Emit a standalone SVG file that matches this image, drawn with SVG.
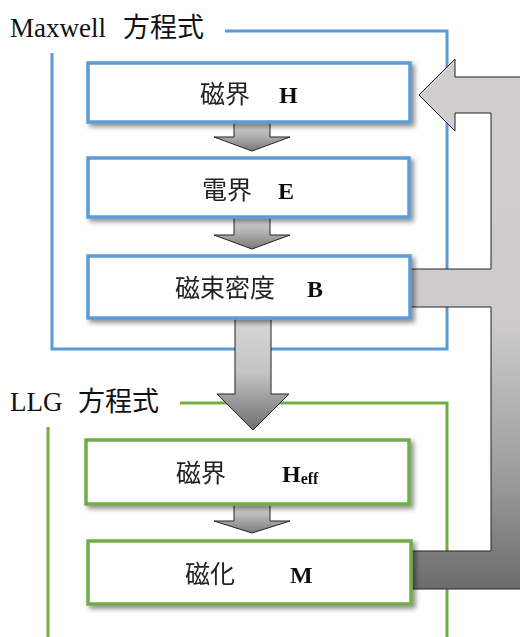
<svg xmlns="http://www.w3.org/2000/svg" width="520" height="637" viewBox="0 0 520 637">
<defs>
<style>
.title{font-family:"Liberation Serif","Noto Sans CJK JP",serif;font-size:27px;fill:#111}
.lbl{font-family:"Liberation Serif","Noto Sans CJK JP",serif;font-size:25px;fill:#222}
.b{font-family:"Liberation Serif",serif;font-weight:bold;font-size:24px;fill:#111}
.sub{font-family:"Liberation Serif",serif;font-weight:bold;font-size:16px;fill:#111}
.blue{fill:#fff;stroke:#5B9BD5;stroke-width:3.5}
.green{fill:#fff;stroke:#70AD47;stroke-width:3.5}
.fb{fill:none;stroke:#5B9BD5;stroke-width:3}
.fg{fill:none;stroke:#70AD47;stroke-width:3}
.arr{stroke:#222;stroke-width:1;stroke-linejoin:miter}
</style>
<linearGradient id="gs" x1="0" y1="0" x2="0" y2="1">
<stop offset="0" stop-color="#E8E8E8"/>
<stop offset="1" stop-color="#7A7A7A"/>
</linearGradient>
<linearGradient id="gbig" x1="0" y1="0" x2="0" y2="1">
<stop offset="0" stop-color="#D8D8D8"/>
<stop offset="0.5" stop-color="#C4C4C4"/>
<stop offset="1" stop-color="#6E6E6E"/>
</linearGradient>
<linearGradient id="gfb" gradientUnits="userSpaceOnUse" x1="0" y1="59" x2="0" y2="589">
<stop offset="0" stop-color="#D0CECE"/>
<stop offset="0.5" stop-color="#CDCBCB"/>
<stop offset="0.8" stop-color="#9A9A9A"/>
<stop offset="1" stop-color="#6C6C6C"/>
</linearGradient>
<filter id="sh" x="-5%" y="-20%" width="115%" height="150%">
<feDropShadow dx="3" dy="3" stdDeviation="2.5" flood-color="#000" flood-opacity="0.45"/>
</filter>
</defs>
<rect width="520" height="637" fill="#fff"/>

<g id="frame-maxwell">
<path class="fb" d="M225,31 H447 V349 H52 V53"/>
<text class="title" y="37"><tspan x="10">Maxwell</tspan><tspan x="123">方程式</tspan></text>
</g>
<g id="frame-llg">
<path class="fg" d="M180,403 H447 V637"/>
<path class="fg" d="M48,427 V637"/>
<text class="title" y="411"><tspan x="10">LLG</tspan><tspan x="78">方程式</tspan></text>
</g>

<g id="connectors">
<polygon class="arr" fill="url(#gs)" points="234,120 270,120 270,137 290,137 252,151 214,137 234,137"/>
<polygon class="arr" fill="url(#gs)" points="234,215 270,215 270,235 290,235 252,249 214,235 234,235"/>
<polygon class="arr" fill="url(#gbig)" points="235,316 271,316 271,394 289,394 253,430 217,394 235,394"/>
<polygon class="arr" fill="url(#gs)" points="234,502 270,502 270,521 290,521 252,533 214,521 234,521"/>
<polygon class="arr" fill="url(#gfb)" points="419,95 455,59 455,77 530,77 530,589 410,589 410,551 491,551 491,307 410,307 410,269 491,269 491,113 455,113 455,131"/>
</g>

<g id="node-H" filter="url(#sh)">
<rect class="blue" x="88" y="63" width="322" height="59"/>
<text y="103"><tspan class="lbl" x="200">磁界</tspan><tspan class="b" x="279">H</tspan></text>
</g>
<g id="node-E" filter="url(#sh)">
<rect class="blue" x="88" y="158" width="321" height="59"/>
<text y="199"><tspan class="lbl" x="202">電界</tspan><tspan class="b" x="278">E</tspan></text>
</g>
<g id="node-B" filter="url(#sh)">
<rect class="blue" x="88" y="256" width="322" height="62"/>
<text y="297"><tspan class="lbl" x="175">磁束密度</tspan><tspan class="b" x="307">B</tspan></text>
</g>
<g id="node-Heff" filter="url(#sh)">
<rect class="green" x="86" y="440" width="323" height="64"/>
<text y="482"><tspan class="lbl" x="176">磁界</tspan><tspan class="b" x="282">H</tspan><tspan class="sub" dy="2">eff</tspan></text>
</g>
<g id="node-M" filter="url(#sh)">
<rect class="green" x="88" y="541" width="323" height="63"/>
<text y="583"><tspan class="lbl" x="185">磁化</tspan><tspan class="b" x="290">M</tspan></text>
</g>
</svg>
